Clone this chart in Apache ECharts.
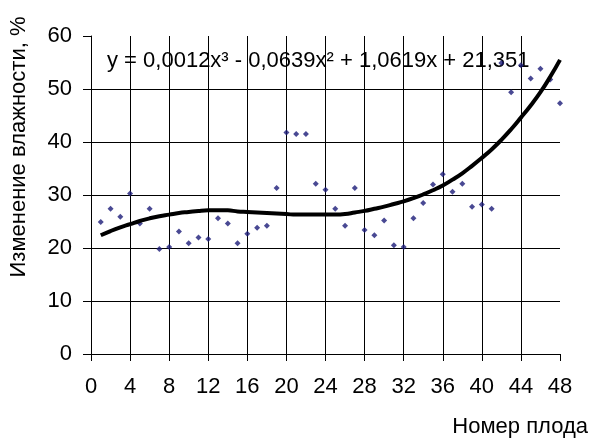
<!DOCTYPE html>
<html>
<head>
<meta charset="utf-8">
<script src="https://cdn.jsdelivr.net/npm/echarts@6/dist/echarts.min.js"></script>
<style>html,body{margin:0;padding:0;background:#fff}#c{width:591px;height:443px}</style>
</head>
<body>
<div id="c"></div>
<script>
const fruitNumbers = [1,2,3,4,5,6,7,8,9,10,11,12,13,14,15,16,17,18,19,20,21,22,23,24,25,26,27,28,29,30,31,32,33,34,35,36,37,38,39,40,41,42,43,44,45,46,47,48];
const moistureChange = [24.9,27.4,25.9,30.3,24.6,27.4,19.8,20.2,23.1,20.9,22.0,21.7,25.6,24.6,20.9,22.7,23.8,24.2,31.3,41.8,41.5,41.5,32.1,31.0,27.4,24.2,31.3,23.4,22.4,25.2,20.5,20.2,25.6,28.5,32.0,33.9,30.6,32.1,27.8,28.2,27.4,54.9,49.4,54.5,52.0,53.8,51.8,47.3];
const trendValues = [22.4,23.2,23.9,24.5,25.1,25.6,26.0,26.3,26.6,26.8,27.0,27.1,27.1,27.1,26.9,26.8,26.7,26.6,26.5,26.4,26.3,26.3,26.3,26.3,26.3,26.4,26.7,27.0,27.4,27.8,28.3,28.8,29.4,30.1,30.9,31.8,32.9,34.1,35.5,37.0,38.6,40.4,42.4,44.6,46.9,49.4,52.3,55.5];
const equationText = 'y = 0,0012x³ - 0,0639x² + 1,0619x + 21,351';
const yTitle = 'Изменение влажности, %';
const xTitle = 'Номер плода';

const FONT = '"Liberation Sans", Arial, sans-serif';
const chart = echarts.init(document.getElementById('c'));
chart.setOption({
  animation: false,
  backgroundColor: '#fff',
  grid: {left: 91, right: 31, top: 36, bottom: 89, containLabel: false},
  xAxis: {
    type: 'value', min: 0, max: 48, interval: 4,
    axisLine: {lineStyle: {color: '#000', width: 1}},
    axisTick: {show: true, inside: false, length: 7, lineStyle: {color: '#000'}},
    axisLabel: {color: '#000', fontFamily: FONT, fontSize: 22, margin: 22},
    splitLine: {show: true, showMinLine: false, showMaxLine: false, lineStyle: {color: '#000', width: 1}}
  },
  yAxis: {
    type: 'value', min: 0, max: 60, interval: 10,
    axisLine: {show: true, lineStyle: {color: '#000', width: 1}},
    axisTick: {show: true, inside: false, length: 8, lineStyle: {color: '#000'}},
    axisLabel: {color: '#000', fontFamily: FONT, fontSize: 22, margin: 19},
    splitLine: {show: true, showMinLine: false, showMaxLine: false, lineStyle: {color: '#000', width: 1}}
  },
  graphic: [
    {type: 'text', left: 107, top: 50, style: {text: equationText, font: '22px ' + FONT, fill: '#000'}},
    {type: 'text', x: 8, y: 147, rotation: Math.PI / 2, style: {text: yTitle, font: '22px ' + FONT, fill: '#000', align: 'center', verticalAlign: 'top'}},
    {type: 'text', right: 3, top: 416, style: {text: xTitle, font: '22px ' + FONT, fill: '#000'}}
  ],
  series: [
    {
      type: 'scatter', symbol: 'diamond', symbolSize: 6,
      itemStyle: {color: '#1c1c78'},
      data: fruitNumbers.map((x, i) => [x, moistureChange[i]]),
      z: 3
    },
    {
      type: 'line', showSymbol: false, symbol: 'none', smooth: true,
      lineStyle: {color: '#000', width: 4},
      data: fruitNumbers.map((x, i) => [x, trendValues[i]]),
      z: 4
    }
  ]
});
</script>
</body>
</html>
